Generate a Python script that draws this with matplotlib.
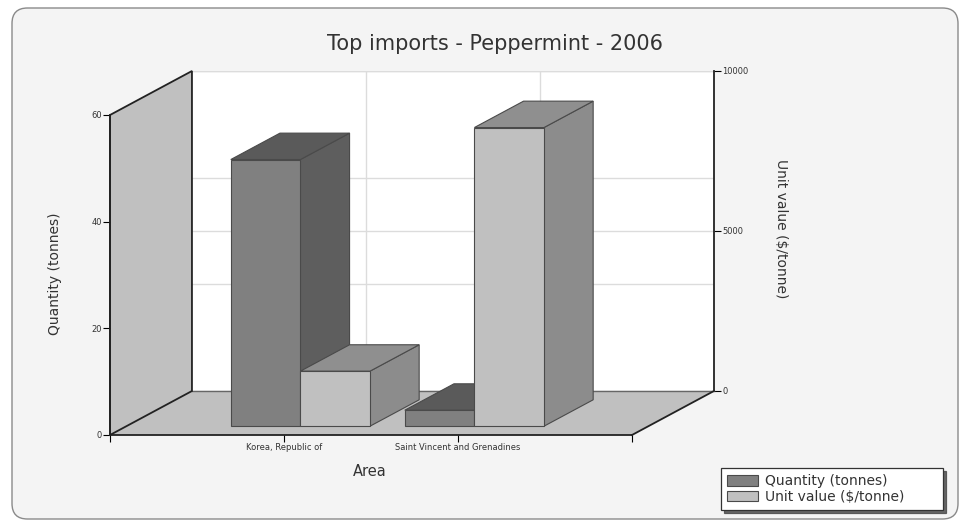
import matplotlib
matplotlib.use("Agg")
import matplotlib.pyplot as plt
from matplotlib.patches import Polygon, FancyBboxPatch, Patch

# ---- data -----------------------------------------------------------------
categories = ["Korea, Republic of", "Saint Vincent and Grenadines"]
quantity_t = [50, 3]          # tonnes
unit_value = [1720, 9333]     # $ per tonne
qty_ticks = [0, 20, 40, 60]
uv_ticks = [0, 5000, 10000]

# ---- styling --------------------------------------------------------------
W, H = 968, 527
TXT = "#333333"
EDGE = "#4a4a4a"
QTY_COLORS = ("#5e5e5e", "#5a5a5a", "#808080")      # side, top, front
UV_COLORS = ("#8c8c8c", "#8f8f8f", "#c0c0c0")
WALL = "#c0c0c0"
GRID = "#dcdcdc"

QMAX, UMAX = 60, 10000
XMAX = len(categories) + 1
DEPTH = (0.157, 0.1375)      # depth vector, in axes-fraction units
BAR_DEPTH = (0.2, 0.8)       # bars occupy this slice of the depth
BAR_W = 0.4

fig = plt.figure(figsize=(W / 100, H / 100), dpi=100)
fig.patch.set_facecolor("white")

# rounded chart frame
fig.patches.append(FancyBboxPatch(
    (12 / W, 8 / H), 946 / W, 511 / H, transform=fig.transFigure,
    boxstyle="round,pad=0,rounding_size=0.016", mutation_aspect=W / H,
    facecolor="#f4f4f4", edgecolor="#8a8a8a", lw=1.0, zorder=0))

front = [110 / W, (H - 435) / H, 522 / W, 320 / H]
back = [front[0] + DEPTH[0] * front[2], front[1] + DEPTH[1] * front[3],
        front[2], front[3]]

# ---- back wall (grid + unit-value axis) -----------------------------------
axb = fig.add_axes(back, zorder=1)
axb.set_xlim(0, XMAX)
axb.set_ylim(0, QMAX)
axb.set_facecolor("white")
axb.set_xticks(range(1, XMAX))
axb.set_yticks(qty_ticks)
axb.grid(True, color=GRID, lw=1.0)
axb.tick_params(length=0, labelleft=False, labelbottom=False)
for s in axb.spines.values():
    s.set_visible(False)

axu = axb.twinx()
axu.set_ylim(0, UMAX)
axu.set_yticks(uv_ticks)
axu.set_yticklabels([str(v) for v in uv_ticks])
axu.grid(True, axis="y", color=GRID, lw=1.0)
axu.tick_params(axis="y", direction="out", length=5, width=0.8,
                labelsize=6, labelcolor=TXT, pad=1)
for name, s in axu.spines.items():
    s.set_visible(name == "right")
axu.spines["right"].set_color("#222222")
axu.spines["right"].set_linewidth(1.3)

# ---- front plane (quantity axis, floor, left wall, bars) ------------------
ax = fig.add_axes(front, zorder=2)
ax.patch.set_visible(False)
ax.set_xlim(0, XMAX)
ax.set_ylim(0, QMAX)
for name in ("top", "right"):
    ax.spines[name].set_visible(False)
for name in ("left", "bottom"):
    ax.spines[name].set_color("#222222")
    ax.spines[name].set_linewidth(1.3)
ax.set_yticks(qty_ticks)
ax.set_yticklabels([str(v) for v in qty_ticks])
ax.set_xticks(range(0, XMAX + 1))
ax.set_xticklabels([""] + categories + [""])
ax.tick_params(direction="out", length=5, width=0.8, labelsize=6,
               labelcolor=TXT, pad=1)

# invisible twin carrying the unit-value scale on the front plane
axuf = ax.twinx()
axuf.set_ylim(0, UMAX)
axuf.set_axis_off()

dx = DEPTH[0] * XMAX
dyq = DEPTH[1] * QMAX
dyu = DEPTH[1] * UMAX


def poly(verts, fc, ec, lw, trans, z):
    ax.add_patch(Polygon(verts, closed=True, facecolor=fc, edgecolor=ec,
                         lw=lw, transform=trans, clip_on=False, zorder=z))


# floor and left wall
poly([(0, 0), (XMAX, 0), (XMAX + dx, dyq), (dx, dyq)],
     WALL, "none", 0, ax.transData, 1)
ax.plot([dx, XMAX + dx], [dyq, dyq], color="#666666", lw=1.0,
        clip_on=False, zorder=1.1)
ax.plot([XMAX, XMAX + dx], [0, dyq], color="#222222", lw=1.3,
        clip_on=False, zorder=1.1)
poly([(0, 0), (0, QMAX), (dx, QMAX + dyq), (dx, dyq)],
     WALL, "#222222", 1.3, ax.transData, 1.2)


def box(x0, x1, h, dy, trans, colors, z):
    f0, f1 = BAR_DEPTH

    def P(x, y, f):
        return (x + f * dx, y + f * dy)

    side = [P(x1, 0, f0), P(x1, 0, f1), P(x1, h, f1), P(x1, h, f0)]
    top = [P(x0, h, f0), P(x1, h, f0), P(x1, h, f1), P(x0, h, f1)]
    face = [P(x0, 0, f0), P(x1, 0, f0), P(x1, h, f0), P(x0, h, f0)]
    for verts, c in zip((side, top, face), colors):
        poly(verts, c, EDGE, 0.8, trans, z)


z = 3
for i, (q, u) in enumerate(zip(quantity_t, unit_value)):
    c = i + 1
    box(c - BAR_W, c, q, dyq, ax.transData, QTY_COLORS, z)
    box(c, c + BAR_W, u, dyu, axuf.transData, UV_COLORS, z + 1)
    z += 2

# ---- texts ----------------------------------------------------------------
fig.text(495 / W, 1 - 44 / H, "Top imports - Peppermint - 2006",
         ha="center", va="center", fontsize=15, color=TXT)
fig.text(55 / W, 1 - 274 / H, "Quantity (tonnes)", rotation=90,
         ha="center", va="center", fontsize=10, color=TXT)
fig.text(781 / W, 1 - 229 / H, "Unit value ($/tonne)", rotation=270,
         ha="center", va="center", fontsize=10, color=TXT)
fig.text(370 / W, 1 - 471 / H, "Area", ha="center", va="center",
         fontsize=10.5, color=TXT)

handles = [Patch(facecolor=QTY_COLORS[2], edgecolor=EDGE, lw=0.8),
           Patch(facecolor=UV_COLORS[2], edgecolor=EDGE, lw=0.8)]
leg = fig.legend(handles, ["Quantity (tonnes)", "Unit value ($/tonne)"],
                 loc="lower left",
                 bbox_to_anchor=(721 / W, (H - 510) / H, 222 / W, 49 / H),
                 mode="expand", borderaxespad=0, fancybox=False,
                 shadow={"color": "#444444", "alpha": 0.8},
                 fontsize=10, handlelength=2.2, handleheight=0.75,
                 handletextpad=0.5, labelspacing=0.1, borderpad=0.45,
                 labelcolor=TXT, framealpha=1, edgecolor="#333333")
leg.get_frame().set_linewidth(0.9)
leg.set_zorder(5)

fig.savefig("out.png", dpi=100)
